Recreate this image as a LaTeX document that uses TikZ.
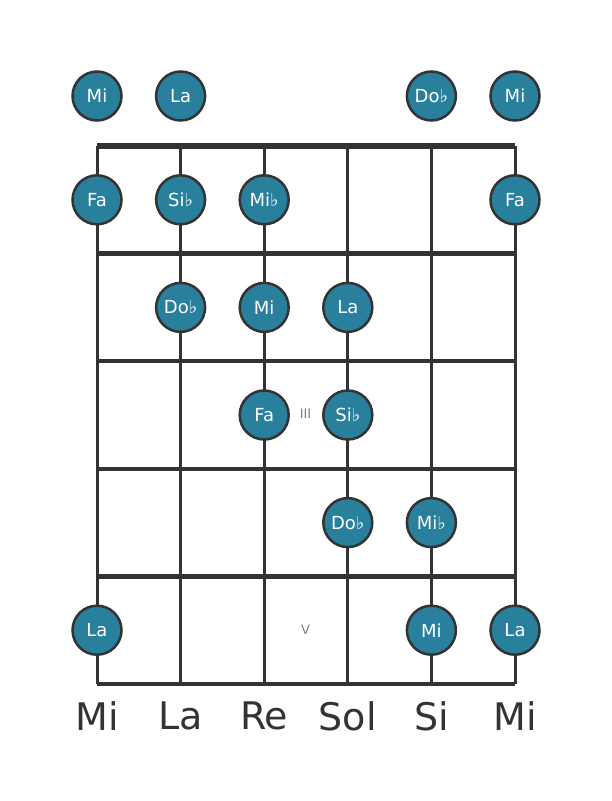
\documentclass[tikz,border=0pt]{standalone}
\usepackage{fontspec}
\setmainfont{DejaVu Sans}
\usetikzlibrary{positioning}
\definecolor{notefill}{RGB}{41,128,157}
\definecolor{boardgray}{RGB}{51,51,51}
\newcommand{\flt}{{\fontsize{18}{18}\selectfont ♭}}
\tikzset{%
  every note/.style={
    circle,
    draw=boardgray,
    line width=2.5pt,
    fill=notefill,
    text=white,
    minimum size=49pt,
    inner sep=0pt,
    font=\fontsize{18}{18}\selectfont
  },
  string line/.style={draw=boardgray, line width=3pt},
  fret line/.style={draw=boardgray, line width=4.5pt},
  nut line/.style={draw=boardgray, line width=6pt},
  fret mark/.style={text=gray, font=\fontsize{13}{13}\selectfont},
  string name/.style={text=boardgray, font=\fontsize{38}{38}\selectfont},
}

\begin{document}
\begin{tikzpicture}[x=1pt, y=-1pt]
\useasboundingbox (0,0) rectangle (611,801);

% string ends and fret ends
\foreach \s in {1,...,6}{
  \coordinate (string-top-\s) at (13.4+83.6*\s, 146);
  \coordinate (string-bottom-\s) at (13.4+83.6*\s, 684);
}
\foreach \f in {0,...,5}{
  \coordinate (fret-left-\f) at (97, 146+107.6*\f);
  \coordinate (fret-right-\f) at (515, 146+107.6*\f);
}

\foreach \s in {1,...,6}
  \draw [string line] (string-top-\s) -- (string-bottom-\s);

\foreach \f in {1,...,5}
  \draw [fret line] (fret-left-\f) -- (fret-right-\f);
\draw [nut line] (fret-left-0) -- (fret-right-0);

% notes
\foreach \n/\s/\f in {Mi/1/0, La/2/0, Do\flt/5/0, Mi/6/0,
                      Fa/1/1, Si\flt/2/1, Mi\flt/3/1, Fa/6/1,
                      Do\flt/2/2, Mi/3/2, La/4/2,
                      Fa/3/3, Si\flt/4/3,
                      Do\flt/4/4, Mi\flt/5/4,
                      La/1/5, Mi/5/5, La/6/5}{
  \pgfmathsetmacro\ny{\f==0 ? 96 : 92.2+107.6*\f}
  \node [every note] (note-\s-\f) at (13.4+83.6*\s, \ny) {\n};
}

% position marks
\node [fret mark] (mark-3) at (305.5, 414) {III};
\node [fret mark] (mark-5) at (305.5, 630) {V};

% open string names
\foreach \l [count=\s] in {Mi, La, Re, Sol, Si, Mi}
  \node [string name] (name-\s) at (13.4+83.6*\s, 716) {\l};

\end{tikzpicture}
\end{document}
